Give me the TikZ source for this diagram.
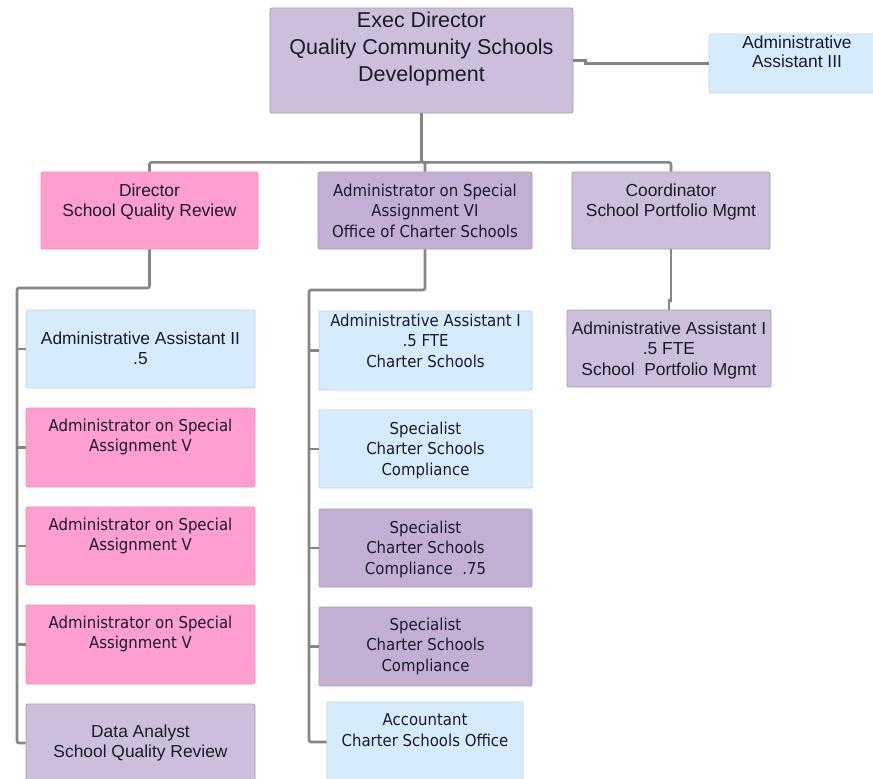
\documentclass[tikz,border=0pt]{standalone}
\usepackage{fontspec}
\setmainfont{Liberation Sans}
\newfontfamily\humanist[FakeStretch=0.91]{DejaVu Sans}
\usetikzlibrary{calc}

\definecolor{lav}{HTML}{CCBFDB}
\definecolor{plum}{HTML}{C3AFD3}
\definecolor{pinkbox}{HTML}{FF9FCF}
\definecolor{skybox}{HTML}{D6ECFC}
\definecolor{wire}{HTML}{858585}
\definecolor{ink}{HTML}{1A1A2A}

\tikzset{
  box/.style={rectangle, rounded corners=2pt, inner sep=0pt, line width=0.8pt},
  lavbox/.style={box, fill=lav, draw=lav!80!black},
  plumbox/.style={box, fill=plum, draw=plum!88!black},
  pbox/.style={box, fill=pinkbox, draw=pinkbox!90!black},
  sbox/.style={box, fill=skybox, draw=skybox!90!black},
  txt/.style={anchor=north, align=center, text=ink, inner sep=0pt},
  arial/.style={txt, font=\fontsize{17.4}{20.5}\selectfont},
  tah/.style={txt, font=\humanist\fontsize{16.4}{20.8}\selectfont},
  big/.style={txt, font=\fontsize{21.5}{27}\selectfont},
  wire/.style={draw=wire, line width=2.6pt, rounded corners=2pt},
  jog/.style={draw=wire, line width=2.6pt, sharp corners},
}

\begin{document}
\begin{tikzpicture}[x=1pt, y=-1pt]
\fill[white] (0,0) rectangle (873,779);
\useasboundingbox (0,0) rectangle (873,779);

% ---- top level ----
\node[lavbox, minimum width=303pt, minimum height=105pt] (exec) at (421.5,60.5) {};
\node[big] (exec-t) at (421.5,12) {Exec Director\\Quality Community Schools\\Development};

\node[sbox, minimum width=176pt, minimum height=59pt] (aa3) at (797,63.5) {};
\node[arial, font=\fontsize{17.4}{19}\selectfont] (aa3-t) at (797,35.5) {Administrative\\Assistant III};

% ---- second level ----
\node[pbox, minimum width=217pt, minimum height=77pt] (dir) at (149.5,210.5) {};
\node[arial] (dir-t) at (149.5,183.5) {Director\\School Quality Review};

\node[plumbox, minimum width=214pt, minimum height=77pt] (aosa6) at (425,210.5) {};
\node[tah] (aosa6-t) at (425,183.5) {Administrator on Special\\Assignment VI\\Office of Charter Schools};

\node[lavbox, minimum width=198pt, minimum height=77pt] (coord) at (671,210.5) {};
\node[arial] (coord-t) at (671,183.5) {Coordinator\\School Portfolio Mgmt};

% ---- School Quality Review column ----
\node[sbox, minimum width=229pt, minimum height=78pt] (aa2) at (140.5,349) {};
\node[arial] (aa2-t) at (140.5,331.5) {Administrative Assistant II\\.5};

\node[pbox, minimum width=229pt, minimum height=79pt] (aosa5a) at (140.5,447.5) {};
\node[tah] (aosa5a-t) at (140.5,418.5) {Administrator on Special\\Assignment V};

\node[pbox, minimum width=229pt, minimum height=78pt] (aosa5b) at (140.5,546) {};
\node[tah] (aosa5b-t) at (140.5,517.5) {Administrator on Special\\Assignment V};

\node[pbox, minimum width=229pt, minimum height=79pt] (aosa5c) at (140.5,644.5) {};
\node[tah] (aosa5c-t) at (140.5,615.5) {Administrator on Special\\Assignment V};

\node[lavbox, minimum width=229pt, minimum height=78pt] (da) at (140.5,743) {};
\node[arial] (da-t) at (140.5,724.5) {Data Analyst\\School Quality Review};

% ---- Charter Schools column ----
\node[sbox, minimum width=213pt, minimum height=79pt] (aa1) at (425.5,350.5) {};
\node[tah] (aa1-t) at (425.5,313.5) {Administrative Assistant I\\.5 FTE\\Charter Schools};

\node[sbox, minimum width=213pt, minimum height=78pt] (spec1) at (425.5,449) {};
\node[tah] (spec1-t) at (425.5,421.5) {Specialist\\Charter Schools\\Compliance};

\node[plumbox, minimum width=213pt, minimum height=78pt] (spec2) at (425.5,548) {};
\node[tah] (spec2-t) at (425.5,520.5) {Specialist\\Charter Schools\\Compliance\ \ .75};

\node[plumbox, minimum width=213pt, minimum height=79pt] (spec3) at (425.5,646.5) {};
\node[tah] (spec3-t) at (425.5,617.5) {Specialist\\Charter Schools\\Compliance};

\node[sbox, minimum width=196pt, minimum height=80pt] (acct) at (425,742) {};
\node[tah] (acct-t) at (425,713.5) {Accountant\\Charter Schools Office};

% ---- School Portfolio column ----
\node[lavbox, minimum width=204pt, minimum height=77pt] (aap) at (669,348.5) {};
\node[arial] (aap-t) at (669,321.5) {Administrative Assistant I\\.5 FTE\\School\ \ Portfolio Mgmt};

% ---- connectors ----
\draw[jog] (exec.east) -- ++(12,0) |- (aa3.west);
\draw[wire] (exec.south) -- ++(0,49) -| (dir.north);
\draw[wire] (exec.south) -- ++(0,49) -| (aosa6.north);
\draw[wire] (exec.south) -- ++(0,49) -| (coord.north);

\coordinate (lt) at (17,288);
\draw[wire] (dir.south) |- (lt) -- (lt |- da.west) -- (da.west);
\foreach \n in {aa2,aosa5a,aosa5b,aosa5c}
  \draw[wire] (lt |- \n.west) -- (\n.west);

\coordinate (mt) at (309,290);
\draw[wire] (aosa6.south) |- (mt) -- (mt |- acct.west) -- (acct.west);
\foreach \n in {aa1,spec1,spec2,spec3}
  \draw[wire] (mt |- \n.west) -- (\n.west);

\draw[jog] (coord.south) -- ++(0,51) -| (aap.north);
\end{tikzpicture}
\end{document}
